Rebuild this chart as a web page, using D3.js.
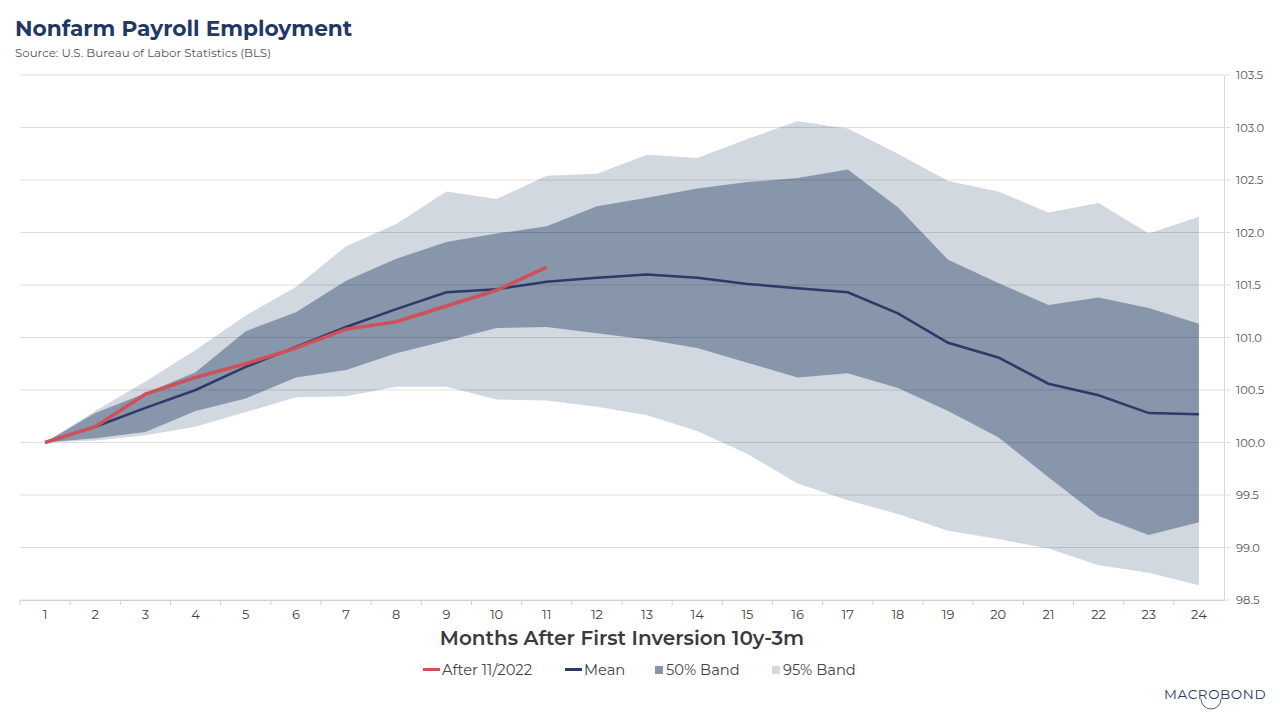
<!DOCTYPE html>
<html>
<head>
<meta charset="utf-8" />
<title>Nonfarm Payroll Employment</title>
<script src="https://d3js.org/d3.v7.min.js"></script>
<style>
  body { margin: 0; background: #fff; }
  svg { display: block; font-family: Montserrat, Inter, "Noto Sans", sans-serif; }
</style>
</head>
<body>
<svg id="chart" width="1280" height="720"></svg>
<script>
// months after first inversion
var months = d3.range(1, 25);

var meanValues = [100.0, 100.15, 100.33, 100.5, 100.72, 100.91, 101.1, 101.27, 101.43, 101.46, 101.53, 101.57,
                  101.6, 101.57, 101.51, 101.47, 101.43, 101.23, 100.95, 100.81, 100.56, 100.45, 100.28, 100.27];

var afterValues = [100.0, 100.15, 100.46, 100.62, 100.75, 100.9, 101.08, 101.15, 101.3, 101.45, 101.67];

var band50Upper = [100.0, 100.28, 100.47, 100.67, 101.06, 101.24, 101.54, 101.75, 101.91, 101.99, 102.06, 102.25,
                   102.33, 102.42, 102.48, 102.52, 102.6, 102.24, 101.74, 101.52, 101.31, 101.38, 101.28, 101.13];
var band50Lower = [100.0, 100.04, 100.1, 100.3, 100.42, 100.62, 100.69, 100.85, 100.97, 101.09, 101.1, 101.04,
                   100.98, 100.9, 100.76, 100.62, 100.66, 100.52, 100.3, 100.05, 99.67, 99.3, 99.12, 99.24];

var band95Upper = [100.0, 100.3, 100.58, 100.88, 101.21, 101.48, 101.87, 102.08, 102.39, 102.32, 102.54, 102.56,
                   102.74, 102.71, 102.89, 103.06, 102.99, 102.75, 102.49, 102.39, 102.19, 102.28, 101.99, 102.15];
var band95Lower = [100.0, 100.02, 100.07, 100.15, 100.29, 100.43, 100.44, 100.53, 100.53, 100.41, 100.4, 100.34,
                   100.26, 100.11, 99.89, 99.61, 99.45, 99.32, 99.16, 99.08, 98.99, 98.83, 98.76, 98.64];

var yTicks = [98.5, 99.0, 99.5, 100.0, 100.5, 101.0, 101.5, 102.0, 102.5, 103.0, 103.5];

var svg = d3.select("#chart");
var plotLeft = 20, plotRight = 1224, plotTop = 75, plotBottom = 600;

var x = d3.scaleBand().domain(months).range([plotLeft, plotRight]);
var y = d3.scaleLinear().domain([98.5, 103.5]).range([plotBottom, plotTop]);
function cx(m) { return x(m) + x.bandwidth() / 2; }

// title
svg.append("text").attr("x", 15).attr("y", 36)
    .style("font-size", "21.7px").style("font-weight", "700").style("fill", "#1f3864")
    .text("Nonfarm Payroll Employment");
svg.append("text").attr("x", 15).attr("y", 57)
    .style("font-size", "11.8px").style("fill", "#555")
    .text("Source: U.S. Bureau of Labor Statistics (BLS)");

// bands
var area95 = d3.area().x(function(d, i) { return cx(months[i]); })
    .y0(function(d, i) { return y(band95Lower[i]); })
    .y1(function(d) { return y(d); });
svg.append("path").datum(band95Upper).attr("d", area95).attr("fill", "#d1d8e0");

var area50 = d3.area().x(function(d, i) { return cx(months[i]); })
    .y0(function(d, i) { return y(band50Lower[i]); })
    .y1(function(d) { return y(d); });
svg.append("path").datum(band50Upper).attr("d", area50).attr("fill", "#8796ab");

// gridlines on top of bands
svg.append("g").selectAll("line").data(yTicks).enter().append("line")
    .attr("x1", plotLeft).attr("x2", plotRight + 6)
    .attr("y1", function(d) { return y(d); }).attr("y2", function(d) { return y(d); })
    .attr("stroke", "rgba(0,0,0,0.13)").attr("stroke-width", 1);

// right axis
var yAxis = d3.axisRight(y).tickValues(yTicks).tickFormat(d3.format(".1f")).tickSize(0).tickPadding(12);
var gy = svg.append("g").attr("transform", "translate(" + plotRight + ",0)").call(yAxis);
gy.select(".domain").attr("stroke", "#d9d9d9");
gy.selectAll("text").style("font-size", "11.5px").style("fill", "#555").style("font-family", "Montserrat, Inter, sans-serif");

// bottom axis
var xAxis = d3.axisBottom(x).tickSize(0).tickPadding(10);
var gx = svg.append("g").attr("transform", "translate(0," + plotBottom + ")").call(xAxis);
gx.select(".domain").attr("stroke", "#d0d0d0");
gx.selectAll("text").style("font-size", "13px").style("fill", "#444").style("font-family", "Montserrat, Inter, sans-serif");
gx.selectAll(".sep").data(months).enter().append("line").attr("class", "sep")
    .attr("x1", function(d) { return x(d); }).attr("x2", function(d) { return x(d); })
    .attr("y1", 0).attr("y2", 5).attr("stroke", "#d0d0d0");

svg.append("text").attr("x", 622).attr("y", 645).attr("text-anchor", "middle")
    .style("font-size", "20px").style("font-weight", "600").style("fill", "#3a3a3a")
    .text("Months After First Inversion 10y-3m");

// lines
var line = d3.line().x(function(d, i) { return cx(months[i]); }).y(function(d) { return y(d); });
svg.append("path").datum(meanValues).attr("d", line)
    .attr("fill", "none").attr("stroke", "#2b3a67").attr("stroke-width", 2.5);
svg.append("path").datum(afterValues).attr("d", line)
    .attr("fill", "none").attr("stroke", "#d0505a").attr("stroke-width", 3.5);

// legend
var legend = [
    { label: "After 11/2022", type: "line", color: "#d0505a", x: 423 },
    { label: "Mean", type: "line", color: "#2b3a67", x: 565 },
    { label: "50% Band", type: "box", color: "#8796ab", x: 655 },
    { label: "95% Band", type: "box", color: "#d1d8e0", x: 772 }
];
var lg = svg.append("g").attr("transform", "translate(0,670)");
legend.forEach(function(d) {
    if (d.type == "line") {
        lg.append("rect").attr("x", d.x).attr("y", -2).attr("width", 17).attr("height", 3).attr("fill", d.color);
        lg.append("text").attr("x", d.x + 19).attr("y", 5).style("font-size", "14.7px").style("fill", "#444").text(d.label);
    } else {
        lg.append("rect").attr("x", d.x).attr("y", -4).attr("width", 8).attr("height", 8).attr("fill", d.color);
        lg.append("text").attr("x", d.x + 11).attr("y", 5).style("font-size", "14.7px").style("fill", "#444").text(d.label);
    }
});

// logo
svg.append("text").attr("x", 1164).attr("y", 699)
    .style("font-size", "13.5px").style("letter-spacing", "0.6px").style("fill", "#1f3864")
    .text("MACROBOND");
svg.append("path").attr("d", "M1201,699 A10,10 0 0 0 1221,699")
    .attr("fill", "none").attr("stroke", "#1f3864").attr("stroke-width", 0.8);
</script>
</body>
</html>
